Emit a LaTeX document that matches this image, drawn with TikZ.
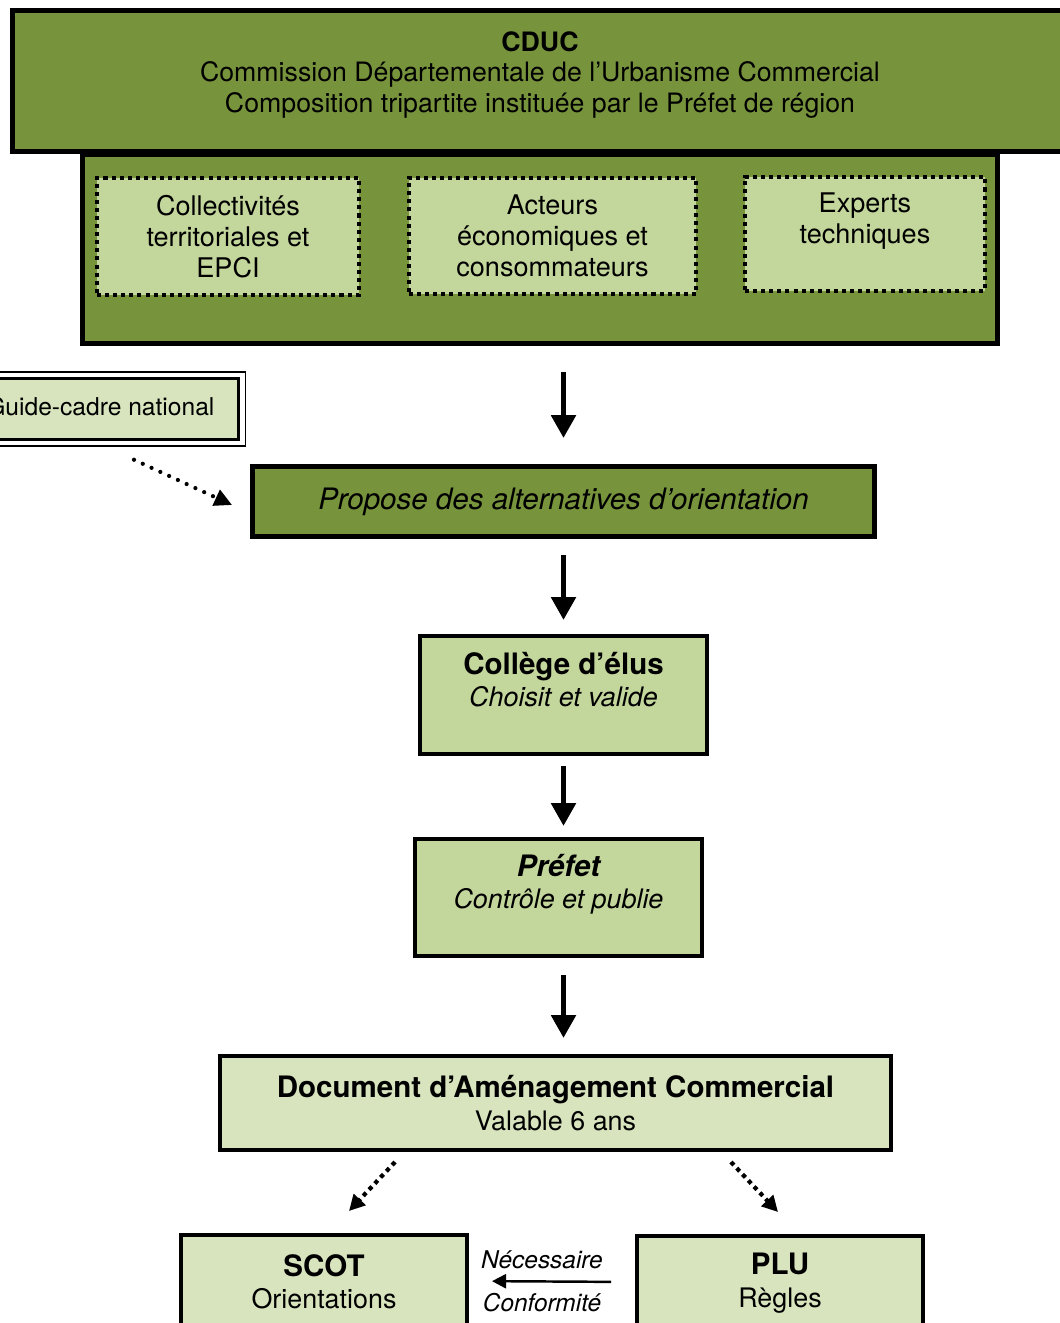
\documentclass[tikz,border=0pt]{standalone}
\usepackage{fontspec}
\setmainfont{TeX Gyre Heros}
\usepackage{tikz}
\usetikzlibrary{arrows.meta,calc}
\definecolor{olivedark}{HTML}{77933C}
\definecolor{olivelight}{HTML}{C3D69B}
\definecolor{olivepale}{HTML}{D7E4BD}
\newcommand{\boxtitle}[1]{{\fontsize{16.8}{18.2}\selectfont\bfseries #1}}
\tikzset{box/.style={draw, line width=2.3pt, align=center, inner sep=0pt}}
\tikzset{darkbox/.style={box, fill=olivedark, line width=2.8pt}}
\tikzset{lightbox/.style={box, fill=olivelight, font=\fontsize{15.3}{18.2}\selectfont}}
\tikzset{palebox/.style={box, fill=olivepale, font=\fontsize{15.3}{18.4}\selectfont}}
\tikzset{dotbox/.style={box, fill=olivelight, dash pattern=on 2.3pt off 2.3pt, font=\fontsize{15.4}{17.6}\selectfont}}
\tikzset{bigarrow/.style={line width=3.4pt, -{Triangle[length=13pt,width=13.5pt]}}}
\tikzset{dotarrow/.style={line width=2.4pt, dash pattern=on 2.4pt off 2.4pt, -{Triangle[length=9pt,width=9pt]}}}
\tikzset{roundarrow/.style={line width=2.4pt, line cap=round, dash pattern=on 0pt off 5.5pt, -{Triangle[length=10pt,width=9.5pt]}}}
\tikzset{thinarrow/.style={line width=1.4pt, -{Triangle[length=8pt,width=8pt]}}}
\tikzset{smalltext/.style={font=\fontsize{13.9}{15}\selectfont\itshape}}

\begin{document}
\begin{tikzpicture}[x=0.02cm, y=-0.02cm, font=\fontsize{15.2}{17.6}\selectfont]
\useasboundingbox (0,0) rectangle (1060,1323);
%CDUC
\node (inner) at (540,249)[darkbox, minimum width=18.3cm, minimum height=3.78cm]{};
\node (cduc) at (551,81)[darkbox, minimum width=21.55cm, minimum height=2.82cm]{};
\node (cductext) at (540,75)[align=center]{\textbf{CDUC}\\Commission Départementale de l’Urbanisme Commercial\\Composition tripartite instituée par le Préfet de région};
%membres
\node (coll) at (228,236.5)[dotbox, minimum width=5.24cm, minimum height=2.34cm]{Collectivités\\territoriales et\\EPCI};
\node (acteurs) at (552.5,236)[dotbox, minimum width=5.74cm, minimum height=2.32cm]{Acteurs\\économiques et\\consommateurs};
\node (experts) at (865,234)[dotbox, minimum width=4.8cm, minimum height=2.28cm]{Experts\\techniques\\\mbox{}};
%guide-cadre
\node (guide) at (103,409)[box, fill=olivepale, line width=1.7pt, minimum width=5.42cm, minimum height=1.21cm, font=\fontsize{14}{17}\selectfont]{\hspace*{-3pt}\raisebox{2.8pt}{Guide-cadre national}};
\draw[line width=0.6pt] ([shift={(-3pt,3pt)}]guide.north west) rectangle ([shift={(3pt,-3pt)}]guide.south east);
%procedure
\node (propose) at (563.5,501.5)[darkbox, minimum width=12.44cm, minimum height=1.4cm, font=\fontsize{16.8}{18.2}\selectfont]{\itshape Propose des alternatives d’orientation};
\node (college) at (563.5,695)[lightbox, minimum width=5.74cm, minimum height=2.36cm]{\boxtitle{Collège d’élus}\\\textit{Choisit et valide}\\\mbox{}};
\node (prefet) at (558.5,897.5)[lightbox, minimum width=5.74cm, minimum height=2.34cm]{\boxtitle{\itshape Préfet}\\\textit{Contrôle et publie}\\\mbox{}};
\node (doc) at (555.5,1103)[palebox, minimum width=13.42cm, minimum height=1.88cm]{\boxtitle{Document d’Aménagement Commercial}\\Valable 6 ans};
%documents
\node (scot) at (324,1282)[palebox, minimum width=5.72cm, minimum height=1.88cm]{\boxtitle{SCOT}\\Orientations};
\node (plu) at (780,1283)[palebox, minimum width=5.72cm, minimum height=1.88cm]{\boxtitle{PLU}\\Règles};

\draw[bigarrow, shorten <=0.53cm, shorten >=0.52cm] (propose.north |- inner.south) -- (propose.north);
\draw[bigarrow, shorten <=0.33cm, shorten >=0.28cm] (propose.south) -- (propose.south |- college.north);
\draw[bigarrow, shorten <=0.2cm, shorten >=0.22cm] (college.south -| propose.south) -- (prefet.north -| propose.south);
\draw[bigarrow, shorten <=0.34cm, shorten >=0.32cm] (prefet.south -| propose.south) -- (doc.north -| propose.south);
\draw[roundarrow] ([xshift=0.62cm, yshift=-0.38cm]guide.south) -- ([xshift=-0.36cm, yshift=-0.07cm]propose.west);
\draw[dotarrow] ([xshift=-3.21cm, yshift=-0.2cm]doc.south) -- ([xshift=0.5cm, yshift=0.44cm]scot.north);
\draw[dotarrow] ([xshift=3.51cm, yshift=-0.2cm]doc.south) -- ([xshift=-0.04cm, yshift=0.44cm]plu.north);
\draw[thinarrow, shorten <=0.48cm, shorten >=0.46cm] ([yshift=0.02cm]plu.west) -- ([yshift=0.02cm]scot.east)
  node[midway, above=0.12cm, xshift=-0.2cm, smalltext]{Nécessaire}
  node[midway, below=0.1cm, xshift=-0.2cm, smalltext]{Conformité};
\end{tikzpicture}
\end{document}
